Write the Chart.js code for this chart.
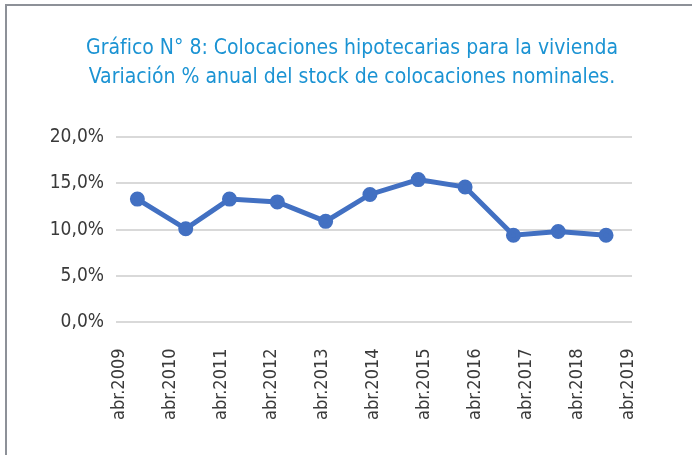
<!DOCTYPE html>
<html lang="es">

<head>
    <meta charset="UTF-8">
    <title>Colocaciones hipotecarias para la vivienda</title>
    <script src="https://cdn.jsdelivr.net/npm/chart.js"></script>
    <style>
        body {
            margin: 0;
            background: #fff;
        }

        .frame {
            position: absolute;
            left: 5px;
            top: 4px;
            width: 687px;
            height: 451px;
            border-left: 2px solid #8d9198;
            border-top: 2px solid #8d9198;
        }

        .wrap {
            position: absolute;
            left: 0;
            top: 0;
            width: 692px;
            height: 455px;
        }
    </style>
</head>

<body>
    <div class="frame"></div>
    <div class="wrap"><canvas id="chart" width="692" height="455"></canvas></div>

    <script>
        // años de las etiquetas del eje x (abr.2009 ... abr.2019)
        const tickYears = [2009, 2010, 2011, 2012, 2013, 2014, 2015, 2016, 2017, 2018, 2019];
        // posición de cada punto, en años desde abr.2009
        const pointPos = [0.36, 1.31, 2.17, 3.11, 4.06, 4.93, 5.88, 6.80, 7.75, 8.63, 9.57];
        // variación % anual del stock de colocaciones nominales
        const variacion = [13.3, 10.1, 13.3, 13.0, 10.9, 13.8, 15.4, 14.6, 9.4, 9.8, 9.4];

        const fontName = "'Liberation Sans Narrow', 'DejaVu Sans Condensed', Arial, sans-serif";

        const ctx = document.getElementById("chart").getContext("2d");
        new Chart(ctx, {
            type: "line",
            data: {
                datasets: [{
                    label: "Variación % anual",
                    data: pointPos.map((x, i) => ({ x: x, y: variacion[i] })),
                    borderColor: "#4270c2",
                    backgroundColor: "#4270c2",
                    borderWidth: 5,
                    pointRadius: 5,
                    pointHoverRadius: 5,
                    tension: 0,
                    fill: false,
                }],
            },
            options: {
                responsive: false,
                animation: false,
                layout: {
                    padding: { left: 12, right: 0, top: 22, bottom: 17 },
                },
                plugins: {
                    legend: { display: false },
                    tooltip: { enabled: false },
                    title: {
                        display: true,
                        text: ["Gráfico N° 8: Colocaciones hipotecarias para la vivienda",
                            "Variación % anual del stock de colocaciones nominales."],
                        color: "#1b93d3",
                        font: { family: fontName, size: 21, weight: "normal", lineHeight: 1.38 },
                        padding: { top: 12, bottom: 45 },
                    },
                },
                scales: {
                    x: {
                        type: "linear",
                        min: -0.06,
                        max: 10.08,
                        afterBuildTicks: (axis) => {
                            axis.ticks = tickYears.map((y, i) => ({ value: i }));
                        },
                        grid: { display: false },
                        border: { display: false },
                        ticks: {
                            minRotation: 90,
                            maxRotation: 90,
                            autoSkip: false,
                            padding: 18,
                            color: "#3a3a3a",
                            font: { family: fontName, size: 18 },
                            callback: (v) => "abr." + tickYears[v],
                        },
                    },
                    y: {
                        min: 0,
                        max: 20,
                        afterFit: (axis) => { axis.width = 104; },
                        grid: {
                            color: "#d9d9d9",
                            lineWidth: 2,
                            drawTicks: false,
                        },
                        border: { display: false },
                        ticks: {
                            stepSize: 5,
                            padding: 12,
                            color: "#3a3a3a",
                            font: { family: fontName, size: 19 },
                            callback: (v) => v.toFixed(1).replace(".", ",") + "%",
                        },
                    },
                    // eje vacío a la derecha para dejar el margen del gráfico original
                    yRight: {
                        position: "right",
                        min: 0,
                        max: 20,
                        afterFit: (axis) => { axis.width = 60; },
                        grid: { display: false },
                        border: { display: false },
                        ticks: { display: false },
                    },
                },
            },
        });
    </script>
</body>

</html>
